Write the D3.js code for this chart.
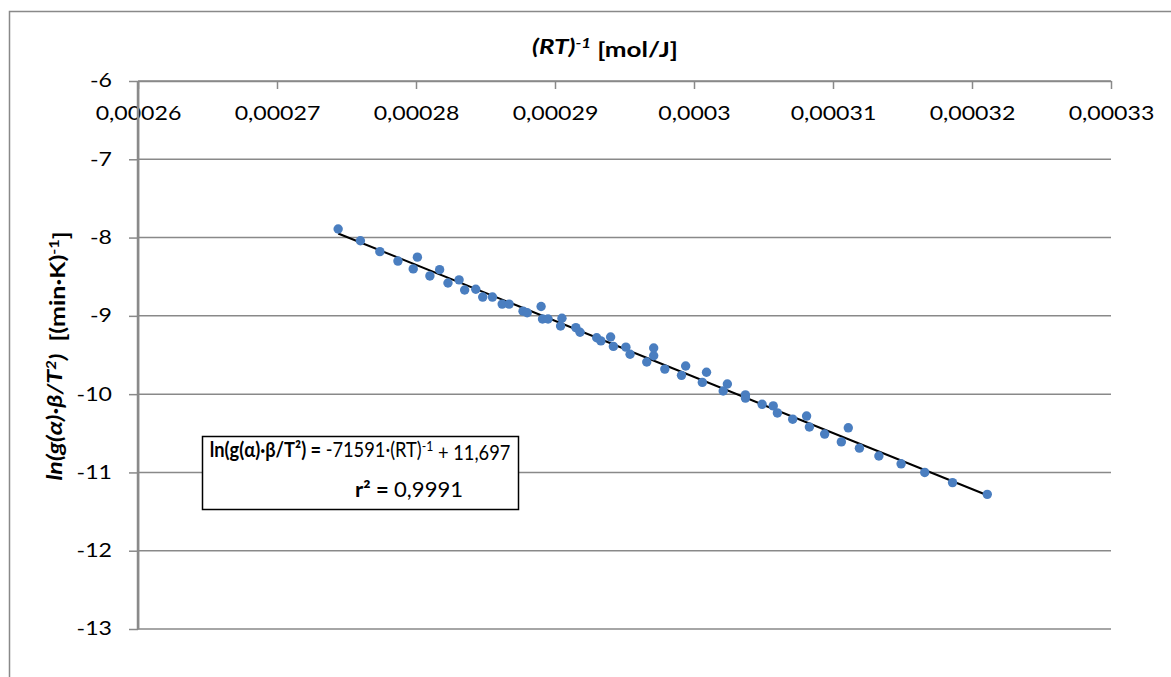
<!DOCTYPE html>
<html>
<head>
<meta charset="utf-8">
<script src="https://cdn.jsdelivr.net/npm/d3@7"></script>
<style>
  html, body { margin: 0; padding: 0; background: #fff; }
  svg { display: block; font-family: Lato, "Open Sans", sans-serif; }
  text { white-space: pre; }
</style>
</head>
<body>
<div id="chart-wrapper"></div>
<script>
// Data
const xTicks = [0.00026, 0.00027, 0.00028, 0.00029, 0.0003, 0.00031, 0.00032, 0.00033];
const yTicks = [-6, -7, -8, -9, -10, -11, -12, -13];

const invRT = [
  0.0002744, 0.0002760, 0.0002774, 0.0002787, 0.0002798, 0.0002801, 0.0002810, 0.0002817,
  0.0002823, 0.0002831, 0.0002835, 0.0002843, 0.0002848, 0.0002855, 0.0002862, 0.0002867,
  0.0002877, 0.0002880, 0.0002890, 0.0002891, 0.0002895, 0.0002904, 0.0002905, 0.0002915,
  0.0002918, 0.0002930, 0.0002933, 0.0002940, 0.0002942, 0.0002951, 0.0002954, 0.0002966,
  0.0002971, 0.0002971, 0.0002979, 0.0002991, 0.0002994, 0.0003006, 0.0003009, 0.0003021,
  0.0003024, 0.0003037, 0.0003037, 0.0003049, 0.0003057, 0.0003060, 0.0003071, 0.0003081,
  0.0003083, 0.0003094, 0.0003106, 0.0003111, 0.0003119, 0.0003133, 0.0003149, 0.0003166,
  0.0003186, 0.0003211
];
const lnG = [
  -7.89, -8.04, -8.18, -8.30, -8.40, -8.25, -8.49, -8.41,
  -8.58, -8.54, -8.67, -8.66, -8.76, -8.76, -8.85, -8.85,
  -8.94, -8.96, -8.88, -9.04, -9.04, -9.13, -9.03, -9.15,
  -9.21, -9.28, -9.32, -9.27, -9.39, -9.40, -9.49, -9.59,
  -9.51, -9.41, -9.68, -9.76, -9.64, -9.85, -9.72, -9.96,
  -9.87, -10.01, -10.05, -10.13, -10.15, -10.24, -10.32, -10.28,
  -10.42, -10.51, -10.61, -10.43, -10.69, -10.79, -10.89, -11.00,
  -11.13, -11.28
];

// fitted trendline
const slope = -71591;
const intercept = 11.697;
const r2Label = "0,9991";

const initChart = () => {
  const W = 1171, H = 677;
  const grey = "#898989";

  const svg = d3.select("#chart-wrapper").append("svg")
    .attr("width", W)
    .attr("height", H);

  // outer frame of the chart area
  svg.append("rect")
    .attr("x", 9.5).attr("y", 11.5)
    .attr("width", 1300).attr("height", 800)
    .attr("fill", "#fff")
    .attr("stroke", grey)
    .attr("stroke-width", 1.5);

  const xScale = d3.scaleLinear().domain([0.00026, 0.00033]).range([138, 1111]);
  const yScale = d3.scaleLinear().domain([-6, -13]).range([81, 629]);

  // horizontal gridlines
  svg.append("g").selectAll("line")
    .data(yTicks)
    .enter()
    .append("line")
    .attr("x1", xScale.range()[0])
    .attr("x2", xScale.range()[1])
    .attr("y1", d => yScale(d))
    .attr("y2", d => yScale(d))
    .attr("stroke", grey)
    .attr("stroke-width", 1.5);

  const styleAxis = (g, sx) => {
    g.select(".domain").attr("stroke", grey).attr("stroke-width", 1.5);
    g.selectAll(".tick line").attr("stroke", grey).attr("stroke-width", 1.5);
    g.selectAll(".tick text")
      .attr("fill", "#000")
      .attr("font-size", "18.5px")
      .attr("font-family", "Lato, sans-serif")
      .each(function () {
        const t = d3.select(this);
        const xx = +t.attr("x") || 0;
        t.attr("x", 0).attr("transform", `translate(${xx},0) scale(${sx},1)`);
      });
  };

  // y axis
  svg.append("g")
    .attr("transform", `translate(${xScale.range()[0]},0)`)
    .call(d3.axisLeft(yScale)
      .tickValues(yTicks)
      .tickSize(9)
      .tickSizeOuter(0)
      .tickPadding(17)
      .tickFormat(d => String(d)))
    .call(styleAxis, 1.25);

  // x axis along the top
  svg.append("g")
    .attr("transform", `translate(0,${yScale(-6)})`)
    .call(d3.axisBottom(xScale)
      .tickValues(xTicks)
      .tickSize(8)
      .tickSizeOuter(0)
      .tickPadding(18)
      .tickFormat(d => String(+d.toFixed(5)).replace(".", ",")))
    .call(styleAxis, 1.25);

  // trendline
  const xExt = d3.extent(invRT);
  svg.append("line")
    .attr("x1", xScale(xExt[0]))
    .attr("y1", yScale(slope * xExt[0] + intercept))
    .attr("x2", xScale(xExt[1]))
    .attr("y2", yScale(slope * xExt[1] + intercept))
    .attr("stroke", "#000")
    .attr("stroke-width", 2);

  // points
  svg.append("g").selectAll("circle")
    .data(invRT.map((v, i) => ({ x: v, y: lnG[i] })))
    .enter()
    .append("circle")
    .attr("cx", d => xScale(d.x))
    .attr("cy", d => yScale(d.y))
    .attr("r", 4.7)
    .attr("fill", "#4a7ec0");

  // helper for text stretched along its run
  const stretched = (x, y, anchor, size, sx, rotate) => {
    const g = svg.append("g")
      .attr("transform", rotate
        ? `translate(${x},${y}) rotate(-90) scale(${sx},1)`
        : `translate(${x},${y}) scale(${sx},1)`);
    return g.append("text")
      .attr("text-anchor", anchor)
      .attr("font-size", size + "px")
      .attr("fill", "#000");
  };

  const sup = (t, str, size) => t.append("tspan")
    .attr("dy", "-0.45em")
    .attr("font-size", size + "px")
    .text(str);

  // x axis title
  const title = stretched(605, 54, "middle", 20, 1.3, false).attr("font-weight", "bold");
  title.append("tspan").attr("font-style", "italic").text("(RT)");
  sup(title, "-1", 13).attr("font-style", "italic");
  title.append("tspan").attr("dy", "0.45em").text(" [mol/J]");

  // y axis title
  const ytitle = stretched(62, 356, "middle", 20, 1.25, true).attr("font-weight", "bold");
  ytitle.append("tspan").attr("font-style", "italic").text("ln(g(α)·β/T");
  sup(ytitle, "2", 13).attr("font-style", "italic");
  ytitle.append("tspan").attr("dy", "0.45em").attr("font-style", "italic").text(")");
  ytitle.append("tspan").text("  [(min·K)");
  sup(ytitle, "-1", 13);
  ytitle.append("tspan").attr("dy", "0.45em").text("]");

  // equation box
  svg.append("rect")
    .attr("x", 202.5).attr("y", 436.5)
    .attr("width", 316).attr("height", 73)
    .attr("fill", "#fff")
    .attr("stroke", "#000")
    .attr("stroke-width", 1.5);

  const eq = stretched(360, 457, "middle", 21, 0.87, false);
  eq.append("tspan").attr("font-weight", "bold").text("ln(g(α)·β/T²) = ");
  eq.append("tspan").text(`${slope}·(RT)`);
  sup(eq, "-1", 14);
  eq.append("tspan").attr("dy", "0.45em").text(" + " + String(intercept).replace(".", ","));

  const r2 = stretched(355, 497, "start", 21, 1.05, false);
  r2.append("tspan").attr("font-weight", "bold").text("r² = ");
  r2.append("tspan").text(r2Label);

  // vertical axis line, drawn last so nothing hides it
  svg.append("line")
    .attr("x1", xScale.range()[0]).attr("x2", xScale.range()[0])
    .attr("y1", yScale(-6)).attr("y2", yScale(-13))
    .attr("stroke", "#8a8a8a")
    .attr("stroke-width", 2.5);
};

window.onload = () => {
  initChart();
};
</script>
</body>
</html>
